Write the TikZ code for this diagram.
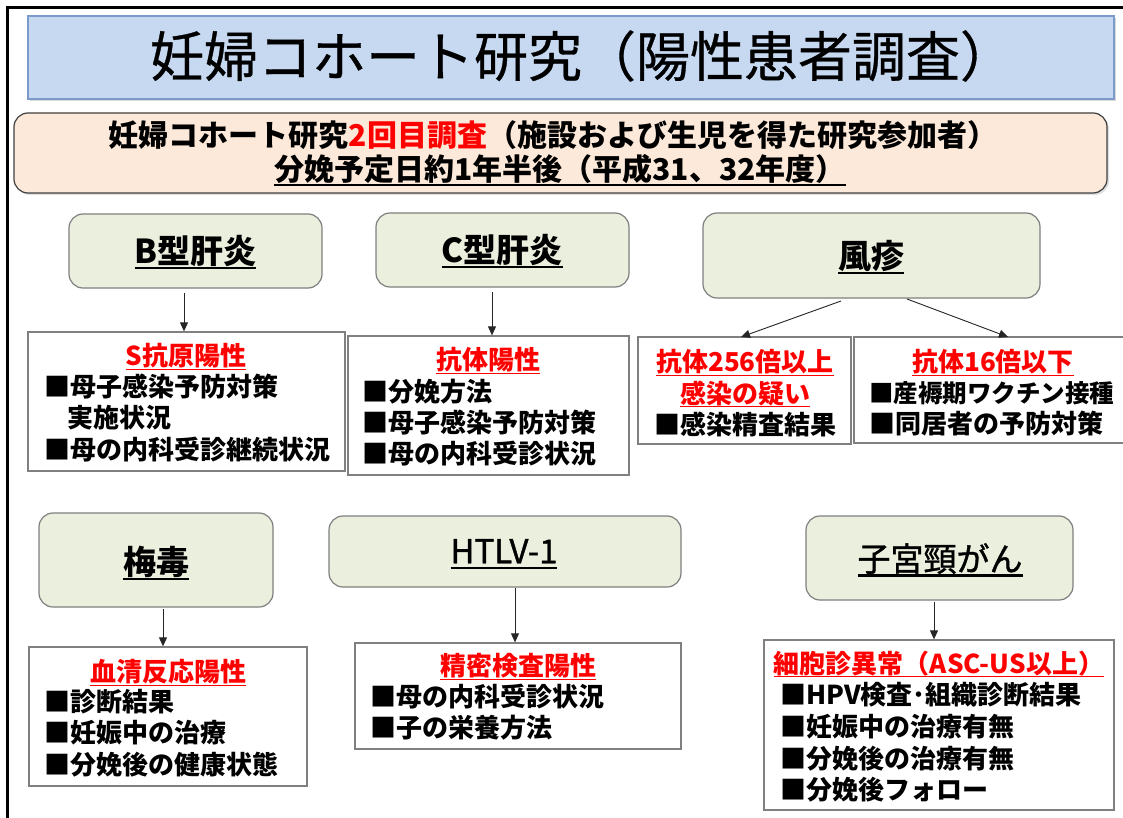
\documentclass[tikz,border=0pt]{standalone}
\usepackage{fontspec}
\setmainfont{Noto Sans CJK JP}
\usetikzlibrary{arrows.meta,shadows}
\definecolor{titlefill}{HTML}{C6D9F1}
\definecolor{titledraw}{HTML}{7A9BCB}
\definecolor{peachfill}{HTML}{FDE9D9}
\definecolor{peachdraw}{HTML}{404040}
\definecolor{greenfill}{HTML}{EBEFDE}
\definecolor{greendraw}{HTML}{7F7F7F}
\definecolor{boxdraw}{HTML}{808080}
\definecolor{hdred}{HTML}{FF0000}
\newsavebox\ulbox
\newcommand{\ulx}[1]{\sbox\ulbox{#1}\leavevmode\rlap{\usebox\ulbox}\raisebox{-0.17em}{\rule{\wd\ulbox}{0.07em}}}
\newcommand{\rectnode}[6]{\node[#1,minimum width={#5-#3},minimum height={#6-#4}] (#2) at ({(#3+#5)/2},{(#4+#6)/2}) {};}
\tikzset{
  txt/.style={inner sep=0pt, font=\fontsize{26}{30}\selectfont\bfseries, anchor=west},
  hd/.style={inner sep=0pt, font=\fontsize{26}{30}\selectfont\bfseries, text=hdred},
  gbox/.style={draw=greendraw, fill=greenfill, rounded corners=14pt, line width=1.2pt, inner sep=0pt},
  rbox/.style={draw=boxdraw, fill=white, line width=1.3pt, inner sep=0pt},
  lbl/.style={inner sep=0pt, font=\fontsize{33}{36}\selectfont\bfseries},
  lblr/.style={inner sep=0pt, font=\fontsize{33}{36}\selectfont\addfontfeature{FakeBold=1.2}},
  arr/.style={-{Triangle[length=9pt,width=8pt]}, line width=0.9pt, draw=black!85},
  titlebox/.style={draw=titledraw, fill=titlefill, line width=1.2pt, inner sep=0pt,
    drop shadow={shadow xshift=2pt, shadow yshift=-2pt, opacity=0.3}},
  peachbox/.style={draw=peachdraw, fill=peachfill, line width=1.2pt, rounded corners=14pt, inner sep=0pt,
    drop shadow={shadow xshift=2pt, shadow yshift=-2pt, opacity=0.25}},
  frame/.style={line width=3pt, draw=black},
}
\begin{document}
\begin{tikzpicture}[x=1pt,y=-1pt]
\useasboundingbox (0,0) rectangle (1123,818);
\fill[white] (0,0) rectangle (1123,818);
% outer frame
\coordinate (fTL) at (7,7.5);
\coordinate (fTR) at (1125,7.5);
\coordinate (fBL) at (7,820);
\draw[frame] (fTR) -- (fTL) -- (fBL);

% title
\rectnode{titlebox}{title}{28}{16}{1114}{99}
\node[inner sep=0pt, font=\fontsize{54}{58}\selectfont\addfontfeature{FakeBold=0.6}] (titletxt) at (582,56) {妊婦コホート研究（陽性患者調査）};

% peach box
\rectnode{peachbox}{peach}{14}{113}{1107}{193}
\node[inner sep=0pt, font=\fontsize{30}{34}\selectfont\bfseries] (pl1) at (553,135) {妊婦コホート研究{\color{hdred}2回目調査}（施設および生児を得た研究参加者）};
\node[inner sep=0pt, font=\fontsize{30}{34}\selectfont\bfseries] (pl2) at (560,170) {\ulx{分娩予定日約1年半後（平成31、32年度）}};

% green category boxes
\rectnode{gbox}{gB}{69}{214}{322}{288}
\rectnode{gbox}{gC}{376}{213}{629}{287}
\rectnode{gbox}{gR}{703}{213}{1040}{298}
\rectnode{gbox}{gS}{39}{513}{273}{607}
\rectnode{gbox}{gH}{329}{516}{681}{587}
\rectnode{gbox}{gU}{806}{516}{1073}{600}
\node[lbl] (lB) at (195.5,252) {\ulx{B型肝炎}};
\node[lbl] (lC) at (502,251) {\ulx{C型肝炎}};
\node[lbl] (lR) at (871,257) {\ulx{風疹}};
\node[lbl] (lS) at (156,563) {\ulx{梅毒}};
\node[lblr] (lH) at (504,554) {\ulx{HTLV-1}};
\node[lblr] (lU) at (940,560) {\ulx{子宮頸がん}};

% result boxes
\rectnode{rbox}{rB}{28}{332}{345}{471}
\rectnode{rbox}{rC}{348}{336}{629}{475}
\rectnode{rbox}{rL}{638}{337}{851}{444}
\rectnode{rbox}{rR}{854}{337}{1128}{443}
\rectnode{rbox}{rS}{29}{647}{307}{786}
\rectnode{rbox}{rH}{355}{643}{681}{749}
\rectnode{rbox}{rU}{764}{640}{1114}{810}

% arrows
\coordinate (aB) at (184,293);
\coordinate (aC) at (492,292);
\coordinate (aR1) at (841,301);
\coordinate (aR1e) at (741,337);
\coordinate (aR2) at (907,299);
\coordinate (aR2e) at (1008,337);
\coordinate (aS) at (163,609);
\coordinate (aH) at (515,588);
\coordinate (aU) at (934,602);
\draw[arr] (aB) -- (aB |- rB.north);
\draw[arr] (aC) -- (aC |- rC.north);
\draw[arr] (aR1) -- (aR1e);
\draw[arr] (aR2) -- (aR2e);
\draw[arr] (aS) -- (aS |- rS.north);
\draw[arr] (aH) -- (aH |- rH.north);
\draw[arr] (aU) -- (aU |- rU.north);

% texts B
\node[hd] (hB) at (186,357) {\ulx{S抗原陽性}};
\node[txt] (tB1) at (44,387) {■母子感染予防対策};
\node[txt] (tB2) at (67,418) {実施状況};
\node[txt] (tB3) at (44,450) {■母の内科受診継続状況};
% texts C
\node[hd] (hC) at (488,361) {\ulx{抗体陽性}};
\node[txt] (tC1) at (362,392) {■分娩方法};
\node[txt] (tC2) at (362,423) {■母子感染予防対策};
\node[txt] (tC3) at (362,454) {■母の内科受診状況};
% rubella left
\node[hd] (hL1) at (745,363) {\ulx{抗体256倍以上}};
\node[hd] (hL2) at (745,394) {\ulx{感染の疑い}};
\node[txt] (tL1) at (654,424) {■感染精査結果};
% rubella right
\node[hd] (hR) at (993,363) {\ulx{抗体16倍以下}};
\node[txt, font=\fontsize{24.5}{30}\selectfont\bfseries] (tR1) at (869,393) {■産褥期ワクチン接種};
\node[txt] (tR2) at (869,424) {■同居者の予防対策};
% syphilis
\node[hd] (hS) at (168,673) {\ulx{血清反応陽性}};
\node[txt] (tS1) at (44,702) {■診断結果};
\node[txt] (tS2) at (44,733) {■妊娠中の治療};
\node[txt] (tS3) at (44,765) {■分娩後の健康状態};
% HTLV
\node[hd] (hH) at (518,667) {\ulx{精密検査陽性}};
\node[txt] (tH1) at (370,697) {■母の内科受診状況};
\node[txt] (tH2) at (370,728) {■子の栄養方法};
% cervical
\node[hd] (hU) at (939,664) {\ulx{細胞診異常（ASC-US以上）}};
\node[txt] (tU1) at (780,695) {■HPV検査･組織診断結果};
\node[txt] (tU2) at (780,727) {■妊娠中の治療有無};
\node[txt] (tU3) at (780,759) {■分娩後の治療有無};
\node[txt] (tU4) at (780,790) {■分娩後フォロー};
\end{tikzpicture}
\end{document}
